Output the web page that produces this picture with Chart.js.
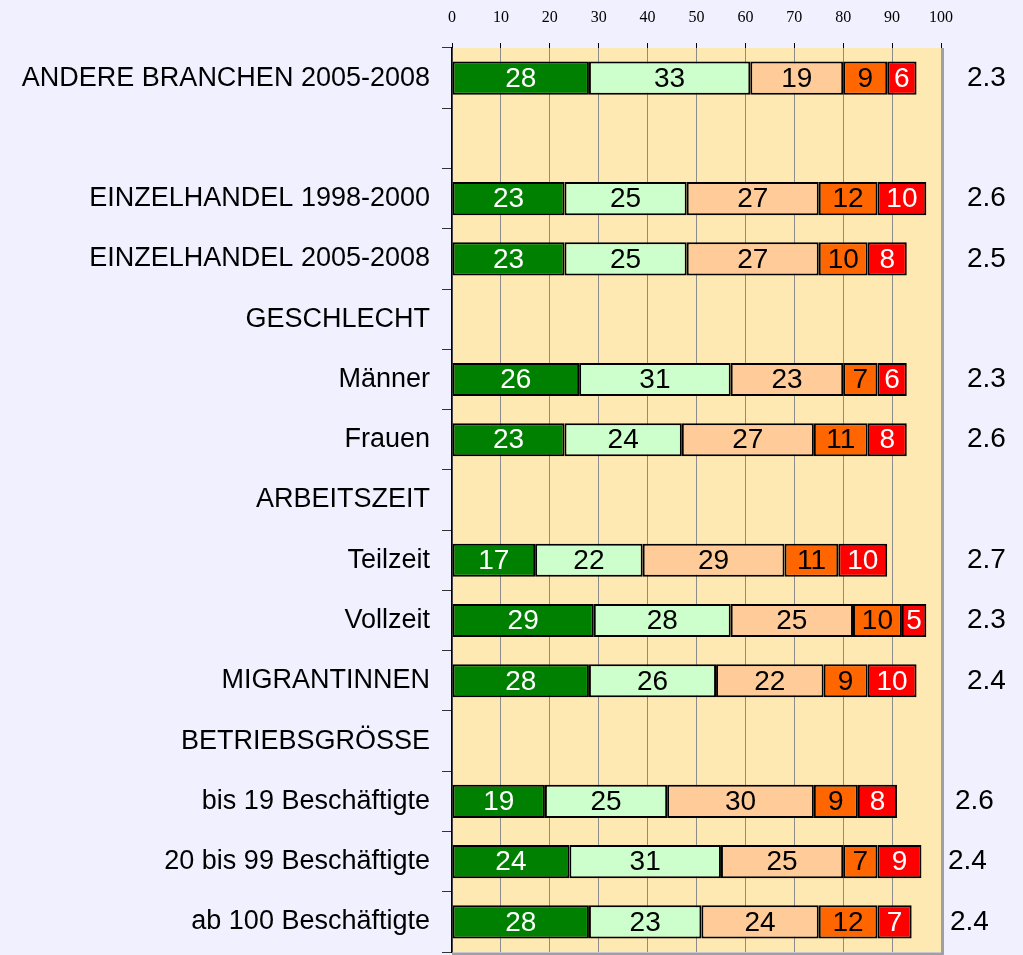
<!DOCTYPE html>
<html lang="de">
<head>
<meta charset="utf-8">
<title>Einzelhandel – Verteilung und Mittelwerte</title>
<script src="https://cdn.jsdelivr.net/npm/chart.js@4/dist/chart.umd.min.js"></script>
<style>
  html, body {
    margin: 0;
    padding: 0;
    background: #f0f0ff;
  }
  #wrap {
    position: relative;
    width: 1023px;
    height: 955px;
  }
</style>
</head>
<body>
<div id="wrap"><canvas id="chart"></canvas></div>
<script>
const CATEGORIES = [
  'ANDERE BRANCHEN 2005-2008',
  '',
  'EINZELHANDEL 1998-2000',
  'EINZELHANDEL 2005-2008',
  'GESCHLECHT',
  'Männer',
  'Frauen',
  'ARBEITSZEIT',
  'Teilzeit',
  'Vollzeit',
  'MIGRANTINNEN',
  'BETRIEBSGRÖSSE',
  'bis 19 Beschäftigte',
  '20 bis 99 Beschäftigte',
  'ab 100 Beschäftigte',
];

const SERIES_1 = [28, null, 23, 23, null, 26, 23, null, 17, 29, 28, null, 19, 24, 28];
const SERIES_2 = [33, null, 25, 25, null, 31, 24, null, 22, 28, 26, null, 25, 31, 23];
const SERIES_3 = [19, null, 27, 27, null, 23, 27, null, 29, 25, 22, null, 30, 25, 24];
const SERIES_4 = [9, null, 12, 10, null, 7, 11, null, 11, 10, 9, null, 9, 7, 12];
const SERIES_5 = [6, null, 10, 8, null, 6, 8, null, 10, 5, 10, null, 8, 9, 7];

const MEANS = ['2.3', '', '2.6', '2.5', '', '2.3', '2.6', '', '2.7', '2.3', '2.4', '', '2.6', '2.4', '2.4'];

const X_TICKS = [0, 10, 20, 30, 40, 50, 60, 70, 80, 90, 100];

// styling only
const SERIES_COLORS = ['#008000', '#ccffcc', '#ffcc99', '#ff6600', '#ff0000'];
const LABEL_COLORS = ['#ffffff', '#000000', '#000000', '#000000', '#ffffff'];
const MEAN_SHIFT = [0, 0, 0, 0, 0, 0, 0, 0, 0, 0, 0, 0, -12, -19, -17];

const plotBackground = {
  id: 'plotBackground',
  beforeDraw(chart) {
    const { ctx, chartArea } = chart;
    ctx.save();
    ctx.fillStyle = '#ffe9b3';
    ctx.fillRect(chartArea.left, chartArea.top, chartArea.right - chartArea.left, chartArea.bottom - chartArea.top);
    ctx.restore();
  },
  afterDraw(chart) {
    const { ctx, chartArea } = chart;
    ctx.save();
    ctx.strokeStyle = '#a0a0a0';
    ctx.lineWidth = 3;
    ctx.beginPath();
    ctx.moveTo(chartArea.right + 1.5, chartArea.top);
    ctx.lineTo(chartArea.right + 1.5, chartArea.bottom + 2);
    ctx.lineTo(chartArea.left, chartArea.bottom + 2);
    ctx.stroke();
    ctx.restore();
  },
};

const barValues = {
  id: 'barValues',
  afterDatasetsDraw(chart) {
    const { ctx, chartArea } = chart;
    ctx.save();
    ctx.font = '28px "Liberation Sans", Arial, sans-serif';
    ctx.textAlign = 'center';
    ctx.textBaseline = 'middle';
    chart.data.datasets.forEach((dataset, datasetIndex) => {
      const meta = chart.getDatasetMeta(datasetIndex);
      meta.data.forEach((bar, index) => {
        const value = dataset.data[index];
        if (value === null || value === undefined) {
          return;
        }
        ctx.fillStyle = LABEL_COLORS[datasetIndex];
        ctx.fillText(String(value), (bar.x + bar.base) / 2, bar.y + 1);
      });
    });

    const firstMeta = chart.getDatasetMeta(0);
    ctx.fillStyle = '#000000';
    ctx.textAlign = 'left';
    MEANS.forEach((mean, index) => {
      if (!mean) {
        return;
      }
      const bar = firstMeta.data[index];
      ctx.fillText(mean, chartArea.right + 26 + MEAN_SHIFT[index], bar.y);
    });
    ctx.restore();
  },
};

const datasets = [SERIES_1, SERIES_2, SERIES_3, SERIES_4, SERIES_5].map((values, index) => ({
  label: `Stufe ${index + 1}`,
  data: values,
  backgroundColor: SERIES_COLORS[index],
  borderColor: '#000000',
  borderWidth: 2,
  borderSkipped: false,
  barPercentage: 0.55,
  categoryPercentage: 1,
}));

new Chart(document.getElementById('chart'), {
  type: 'bar',
  data: {
    labels: CATEGORIES,
    datasets,
  },
  options: {
    indexAxis: 'y',
    responsive: true,
    maintainAspectRatio: false,
    animation: false,
    layout: {
      padding: { top: 0, right: 82, bottom: 3, left: 0 },
    },
    plugins: {
      legend: { display: false },
      tooltip: { enabled: false },
      title: { display: false },
    },
    scales: {
      x: {
        position: 'top',
        stacked: true,
        min: 0,
        max: 100,
        afterBuildTicks(scale) {
          scale.ticks = X_TICKS.map((value) => ({ value }));
        },
        afterFit(scale) {
          scale.height = 48;
          scale.paddingLeft = 0;
          scale.paddingRight = 0;
        },
        border: { display: false },
        grid: {
          color: '#8c8c8c',
          lineWidth: 1,
          tickColor: '#000000',
          tickLength: 5,
          drawTicks: true,
        },
        ticks: {
          color: '#000000',
          padding: 16,
          maxRotation: 0,
          font: { family: '"Liberation Serif", "Times New Roman", serif', size: 16 },
        },
      },
      y: {
        stacked: true,
        afterFit(scale) {
          scale.width = 452;
          scale.paddingTop = 0;
          scale.paddingBottom = 0;
        },
        border: { display: true, color: '#000000', width: 1.5 },
        grid: {
          offset: true,
          drawOnChartArea: false,
          tickColor: '#333333',
          tickLength: 10,
        },
        ticks: {
          color: '#000000',
          padding: 12,
          autoSkip: false,
          font: { family: '"Liberation Sans", Arial, sans-serif', size: 27 },
        },
      },
    },
  },
  plugins: [plotBackground, barValues],
});
</script>
</body>
</html>
